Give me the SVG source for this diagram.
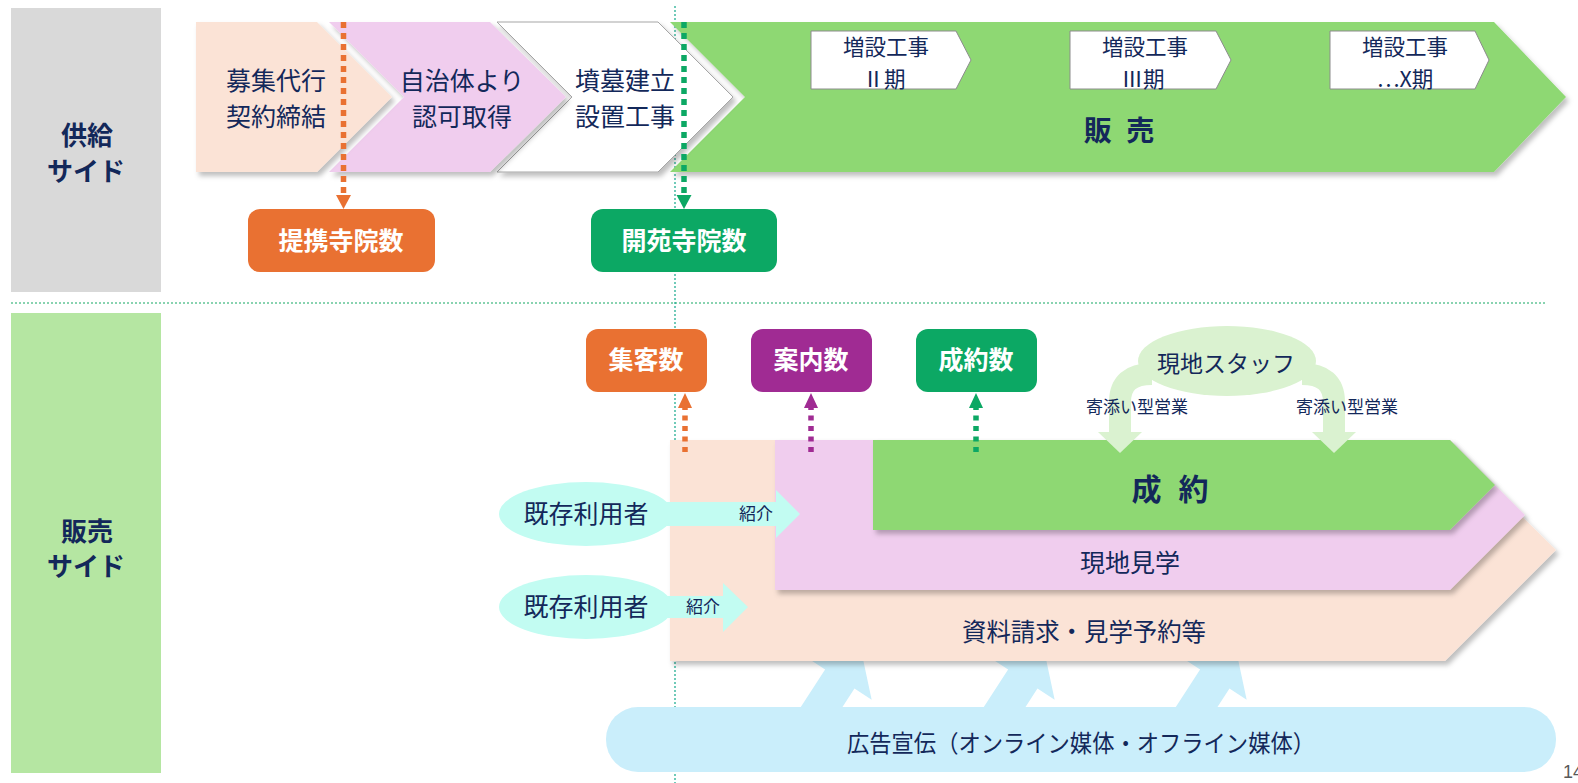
<svg xmlns="http://www.w3.org/2000/svg" width="1578" height="783" viewBox="0 0 1578 783">
<style>
text{font-family:"Noto Sans CJK JP","Noto Sans",sans-serif;fill:#13285A;text-anchor:middle}
.lbl{font-size:25px}
.side{font-size:26px;font-weight:bold}
.wt{fill:#fff;font-size:25px;font-weight:bold}
.tag{fill:#fff;stroke:#8C8C8C;stroke-width:1}
.tt{font-size:21.5px}
.dot{fill:none;stroke-width:5.5;stroke-dasharray:6 5}
</style>
<defs>
<filter id="sh" x="-5%" y="-10%" width="115%" height="130%">
<feDropShadow dx="3" dy="4" stdDeviation="2.5" flood-color="#000" flood-opacity="0.25"/>
</filter>
</defs>
<rect width="1578" height="783" fill="#fff"/>
<g id="panel-supply"><rect x="11" y="8" width="150" height="284" fill="#D9D9D9"/>
<text class="side" x="87" y="145">供給</text><text class="side" x="86" y="181">サイド</text></g>
<g id="panel-sales"><rect x="11" y="313" width="150" height="460" fill="#B5E6A2"/>
<text class="side" x="87" y="541">販売</text><text class="side" x="86" y="576">サイド</text></g>
<g id="guides">
<line x1="11" y1="303" x2="1546" y2="303" stroke="#12A862" stroke-width="1.2" stroke-dasharray="2 2"/>
<line x1="675" y1="6" x2="675" y2="783" stroke="#12A88A" stroke-width="1.2" stroke-dasharray="2 2"/>
</g>
<g id="hanbai"><polygon points="670,22 1494,22 1566,97 1494,172 670,172 745,97" fill="#8ED873" filter="url(#sh)"/>
<text x="1119" y="141" style="font-size:28px;font-weight:bold;word-spacing:8px">販 売</text></g>
<g id="fundo"><polygon points="497,22 658,22 733,97 658,172 497,172 572,97" fill="#fff" stroke="#A6A6A6" stroke-width="1" filter="url(#sh)"/>
<text class="lbl" x="625" y="90">墳墓建立</text><text class="lbl" x="625" y="126">設置工事</text></g>
<g id="ninka"><polygon points="329,22 490,22 566,97 490,172 329,172 404,97" fill="#F0CDEE" filter="url(#sh)"/>
<text class="lbl" x="462" y="90">自治体より</text><text class="lbl" x="462" y="126">認可取得</text></g>
<g id="boshu"><polygon points="196,22 317,22 392,97 317,172 196,172" fill="#FBE3D6" filter="url(#sh)"/>
<text class="lbl" x="276" y="90">募集代行</text><text class="lbl" x="276" y="126">契約締結</text></g>
<g id="zousetsu2"><polygon class="tag" points="811,31 956,31 971,60 956,89 811,89"/>
<text class="tt" x="886" y="55">増設工事</text><text class="tt" x="884" y="87">Ⅱ期</text></g>
<g id="zousetsu3"><polygon class="tag" points="1070,31 1216,31 1231,60 1216,89 1070,89"/>
<text class="tt" x="1145" y="55">増設工事</text><text class="tt" x="1143" y="87">Ⅲ期</text></g>
<g id="zousetsuX"><polygon class="tag" points="1330,31 1475,31 1489,60 1475,89 1330,89"/>
<text class="tt" x="1405" y="55">増設工事</text><text class="tt" x="1405" y="87">…X期</text></g>
<g id="teikei"><rect x="248" y="209" width="187" height="63" rx="12" fill="#E97132"/>
<text class="wt" x="341" y="250">提携寺院数</text></g>
<g id="kaien"><rect x="591" y="209" width="186" height="63" rx="12" fill="#0CA864"/>
<text class="wt" x="684" y="250">開苑寺院数</text></g>
<g id="ad-arrows" fill="#CAEEFB">
<polygon transform="translate(821,708) rotate(33)" points="-17.5,20 17.5,20 17.5,-34.5 38,-34.5 0,-72.5 -38,-34.5 -17.5,-34.5"/>
<polygon transform="translate(1004,708) rotate(33)" points="-17.5,20 17.5,20 17.5,-34.5 38,-34.5 0,-72.5 -38,-34.5 -17.5,-34.5"/>
<polygon transform="translate(1196,708) rotate(33)" points="-17.5,20 17.5,20 17.5,-34.5 38,-34.5 0,-72.5 -38,-34.5 -17.5,-34.5"/>
</g>
<g id="shiryo"><polygon points="670,440 1445,440 1556,550 1445,661 670,661" fill="#FBE3D6" filter="url(#sh)"/>
<text class="lbl" x="1084" y="641" textLength="244" lengthAdjust="spacingAndGlyphs">資料請求・見学予約等</text></g>
<g id="kengaku"><polygon points="775,440 1450,440 1525,515 1450,590 775,590" fill="#F0CDEE" filter="url(#sh)"/>
<text class="lbl" x="1130" y="572">現地見学</text></g>
<g id="seiyaku"><polygon points="873,440 1450,440 1495,485 1450,530 873,530" fill="#8ED873" filter="url(#sh)"/>
<text x="1170" y="500" style="font-size:30px;font-weight:bold;word-spacing:10px">成 約</text></g>
<g id="koukoku"><rect x="606" y="707" width="950" height="65" rx="32" ry="32" fill="#CAEEFB"/>
<text x="1081" y="752" textLength="468" lengthAdjust="spacingAndGlyphs" style="font-size:24px">広告宣伝（オンライン媒体・オフライン媒体）</text></g>
<g id="staff">
<path d="M1152,374 Q1120,374 1120,402 L1120,434" fill="none" stroke="#DAF2D0" stroke-width="22"/>
<path d="M1302,374 Q1334,374 1334,402 L1334,434" fill="none" stroke="#DAF2D0" stroke-width="22"/>
<polygon points="1098,432 1142,432 1120,453" fill="#DAF2D0"/>
<polygon points="1312,432 1356,432 1334,453" fill="#DAF2D0"/>
<ellipse cx="1227" cy="361" rx="89" ry="35" fill="#DAF2D0"/>
<text x="1226" y="372" style="font-size:23px">現地スタッフ</text>
<text x="1137" y="413" style="font-size:17px">寄添い型営業</text>
<text x="1347" y="413" style="font-size:17px">寄添い型営業</text>
</g>
<g id="riyousha1"><polygon points="660,502 776,502 776,490 800,514 776,538 776,526 660,526" fill="#C2FCF2"/>
<ellipse cx="586" cy="514" rx="87" ry="32" fill="#C2FCF2"/>
<text class="lbl" x="586" y="523">既存利用者</text>
<text x="756" y="520" style="font-size:17px">紹介</text></g>
<g id="riyousha2"><polygon points="660,596 723,596 723,583 748,607 723,632 723,618 660,618" fill="#C2FCF2"/>
<ellipse cx="586" cy="607" rx="87" ry="32" fill="#C2FCF2"/>
<text class="lbl" x="586" y="616">既存利用者</text>
<text x="703" y="613" style="font-size:17px">紹介</text></g>
<g id="shukyaku"><rect x="586" y="329" width="121" height="63" rx="12" fill="#E97132"/>
<text class="wt" x="646" y="369">集客数</text></g>
<g id="annai"><rect x="751" y="329" width="121" height="63" rx="12" fill="#A02B93"/>
<text class="wt" x="811" y="369">案内数</text></g>
<g id="seiyakusu"><rect x="916" y="329" width="121" height="63" rx="12" fill="#0CA864"/>
<text class="wt" x="976" y="369">成約数</text></g>
<g id="connectors">
<line class="dot" x1="343.5" y1="22" x2="343.5" y2="195" stroke="#E97132"/>
<polygon points="336,195 351,195 343.5,209" fill="#E97132"/>
<line class="dot" x1="684" y1="22" x2="684" y2="195" stroke="#0CA864"/>
<polygon points="676.5,195 691.5,195 684,209" fill="#0CA864"/>
<line class="dot" x1="685" y1="452" x2="685" y2="408" stroke="#E97132" style="stroke-dasharray:5 5.5"/>
<polygon points="678,408 692,408 685,393" fill="#E97132"/>
<line class="dot" x1="811" y1="452" x2="811" y2="408" stroke="#A02B93" style="stroke-dasharray:5 5.5"/>
<polygon points="804,408 818,408 811,393" fill="#A02B93"/>
<line class="dot" x1="976" y1="452" x2="976" y2="408" stroke="#0CA864" style="stroke-dasharray:5 5.5"/>
<polygon points="969,408 983,408 976,393" fill="#0CA864"/>
</g>
<text x="1563" y="778" style="font-size:18px;fill:#595959;text-anchor:start;font-family:'Liberation Sans',sans-serif">14</text>
</svg>
